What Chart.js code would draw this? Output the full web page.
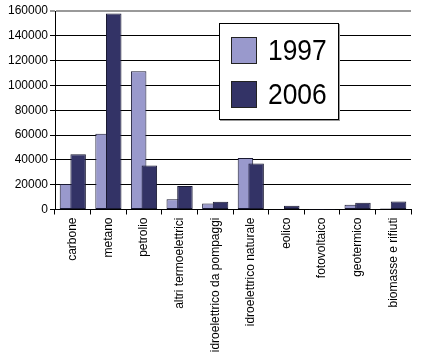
<!DOCTYPE html>
<html lang="it">
<head>
<meta charset="UTF-8">
<title>Produzione elettrica 1997 - 2006</title>
<script src="https://cdn.jsdelivr.net/npm/chart.js"></script>
<style>
  body { margin: 0; background: #fff; }
  #wrap { position: relative; width: 432px; height: 359px; }
  #legend {
    position: absolute; left: 219px; top: 23px; width: 118px; height: 95px;
    border: 1px solid #000; background: #fff; box-shadow: 1px 1px 0 #999;
    font-family: "Liberation Sans", Arial, sans-serif;
  }
  .row { position: absolute; left: 11px; height: 28px; display: flex; align-items: center; }
  .sw { width: 26px; height: 27px; border: 1px solid #222; box-sizing: border-box; }
  .lbl {
    margin-left: 11px; font-size: 30px; line-height: 28px; color: #000;
    display: inline-block; transform: scaleX(0.88); transform-origin: left center;
  }
</style>
</head>
<body>
<div id="wrap">
  <canvas id="chart" width="432" height="359"></canvas>
  <div id="legend"></div>
</div>
<script>
const categories = ["carbone", "metano", "petrolio", "altri termoelettrici",
  "idroelettrico da pompaggi", "idroelettrico naturale", "eolico",
  "fotovoltaico", "geotermico", "biomasse e rifiuti"];
const years = ["1997", "2006"];
const values1997 = [20500, 61000, 111500, 8300, 4900, 41600, 120, 7, 3900, 820];
const values2006 = [44500, 158000, 35500, 19000, 6200, 37000, 3000, 2, 5500, 6500];
const colors = ["#9999cc", "#333366"];

// html legend, as in the picture it sits inside the plot
const legend = document.getElementById("legend");
years.forEach((y, i) => {
  legend.innerHTML += `<div class="row" style="top:${12 + i * 44}px">
    <div class="sw" style="background:${colors[i]}"></div><span class="lbl">${y}</span></div>`;
});

// draw 1997 first so the 2006 bars overlap it
const drawInOrder = {
  id: "drawInOrder",
  beforeDatasetsDraw(chart) {
    chart.data.datasets.forEach((ds, i) => {
      const meta = chart.getDatasetMeta(i);
      if (!meta.hidden) meta.controller.draw();
    });
    return false;
  }
};

const font = { family: "'Liberation Sans', Arial, sans-serif", size: 12 };

new Chart(document.getElementById("chart"), {
  type: "bar",
  data: {
    labels: categories,
    datasets: [
      { label: years[0], data: values1997, backgroundColor: colors[0] },
      { label: years[1], data: values2006, backgroundColor: colors[1] }
    ]
  },
  options: {
    responsive: false,
    animation: false,
    devicePixelRatio: 1,
    layout: { padding: { top: 11, right: 21, left: 0, bottom: 0 } },
    datasets: {
      bar: {
        categoryPercentage: 0.6,
        barPercentage: 1.45,
        borderWidth: 1,
        borderColor: "#1a1a33",
        borderSkipped: false
      }
    },
    plugins: { legend: { display: false }, tooltip: { enabled: false } },
    scales: {
      x: {
        grid: { drawOnChartArea: false, color: "#000", tickLength: 5, offset: true },
        border: { color: "#000" },
        ticks: { color: "#000", font: font, minRotation: 90, maxRotation: 90, padding: 3, autoSkip: false },
        afterFit: (s) => { s.height = 149.5; }
      },
      y: {
        min: 0,
        max: 160000,
        grid: {
          color: (c) => (c.tick && c.tick.value === 160000 ? "#999" : "#000"),
          lineWidth: (c) => (c.tick && c.tick.value === 160000 ? 2 : 1),
          tickLength: 5
        },
        border: { color: "#000" },
        ticks: {
          stepSize: 10000,
          maxTicksLimit: 20,
          color: "#000",
          font: font,
          padding: 2,
          callback: (v) => (v % 20000 === 0 ? String(v) : "")
        },
        afterFit: (s) => { s.width = 55; }
      }
    }
  },
  plugins: [drawInOrder]
});
</script>
</body>
</html>
